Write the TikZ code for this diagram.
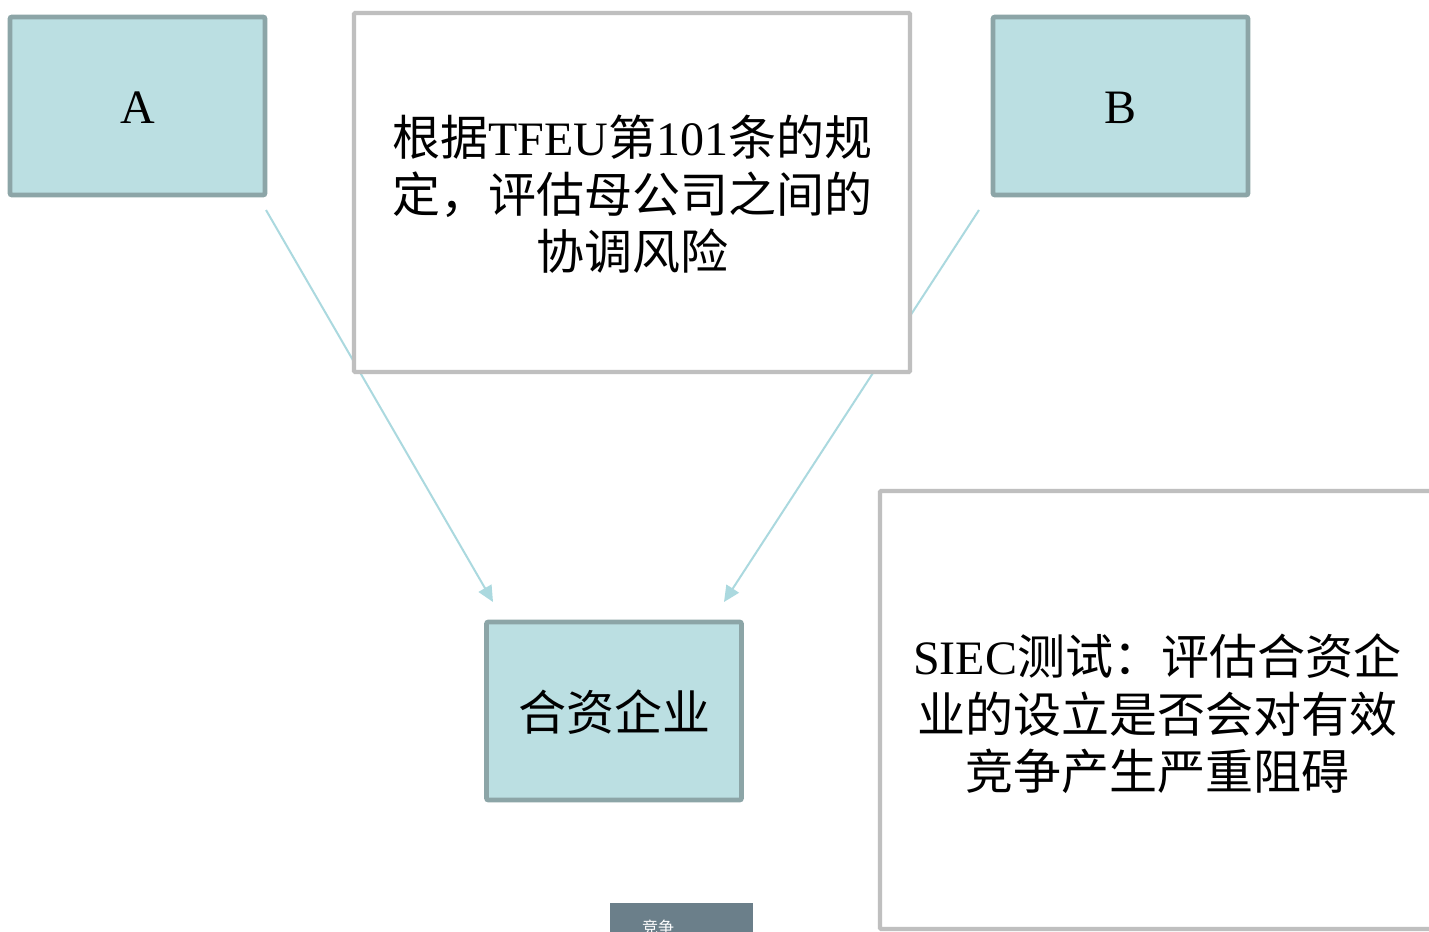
\documentclass[tikz,border=0pt]{standalone}
\usepackage{fontspec}
\setmainfont{Liberation Serif}
\newfontfamily\cjk{Noto Sans CJK SC}
\usetikzlibrary{arrows.meta}
\definecolor{boxfill}{HTML}{BBDFE2}
\definecolor{boxedge}{HTML}{8CA5A7}
\definecolor{greyedge}{HTML}{BFBFBF}
\definecolor{linkcol}{HTML}{ABD9DF}
\definecolor{slate}{HTML}{6B7F8A}
\tikzset{
  tealbox/.style={draw=boxedge, fill=boxfill, line width=3.6pt, rounded corners=1.5pt,
    minimum width=191.25pt, minimum height=133.5pt, inner sep=0pt},
  whitebox/.style={draw=greyedge, fill=white, line width=3.3pt, rounded corners=1pt, inner sep=0pt},
  bigtext/.style={font=\fontsize{36pt}{43pt}\selectfont, align=center, inner sep=0pt},
  link/.style={draw=linkcol, line width=1.5pt, -{Triangle[length=12pt,width=11pt]}}
}
\begin{document}
\begin{tikzpicture}[x=0.75pt,y=-0.75pt]
\useasboundingbox (0,0) rectangle (1429,932);
\clip (0,0) rectangle (1429,932);
\fill[white] (0,0) rectangle (1429,932);
% connectors (drawn first, partly covered by the centre box)
\coordinate (aout) at (266,210);
\coordinate (ain) at (493,602);
\coordinate (bout) at (979,210);
\coordinate (bin) at (724,602);
\draw[link] (aout) -- (ain);
\draw[link] (bout) -- (bin);
% boxes
\node[tealbox] (A) at (137.5,106) {};
\node[bigtext] (Alab) at (137.5,108) {A};
\node[tealbox] (B) at (1120.5,106) {};
\node[bigtext] (Blab) at (1120,108) {B};
\node[whitebox, minimum width=417pt, minimum height=269.25pt] (C) at (632,192.5) {};
\node[bigtext] (Clab) at (632,194) {{\cjk 根据}TFEU{\cjk 第}101{\cjk 条的规}\\{\cjk 定，评估母公司之间的}\\{\cjk 协调风险}};
\node[tealbox] (J) at (614,711) {};
\node[bigtext] (Jlab) at (614,712) {\cjk 合资企业};
\node[whitebox, minimum width=415.5pt, minimum height=328.5pt] (S) at (1157,710) {};
\node[bigtext] (Slab) at (1157,714) {SIEC{\cjk 测试：评估合资企}\\{\cjk 业的设立是否会对有效}\\{\cjk 竞争产生严重阻碍}};
\fill[slate] (610,903) rectangle (753,960);
\node[anchor=north, inner sep=0pt, text=white, font=\cjk\fontsize{12pt}{14pt}\selectfont] (tag) at (658,920) {竞争};
\end{tikzpicture}
\end{document}
